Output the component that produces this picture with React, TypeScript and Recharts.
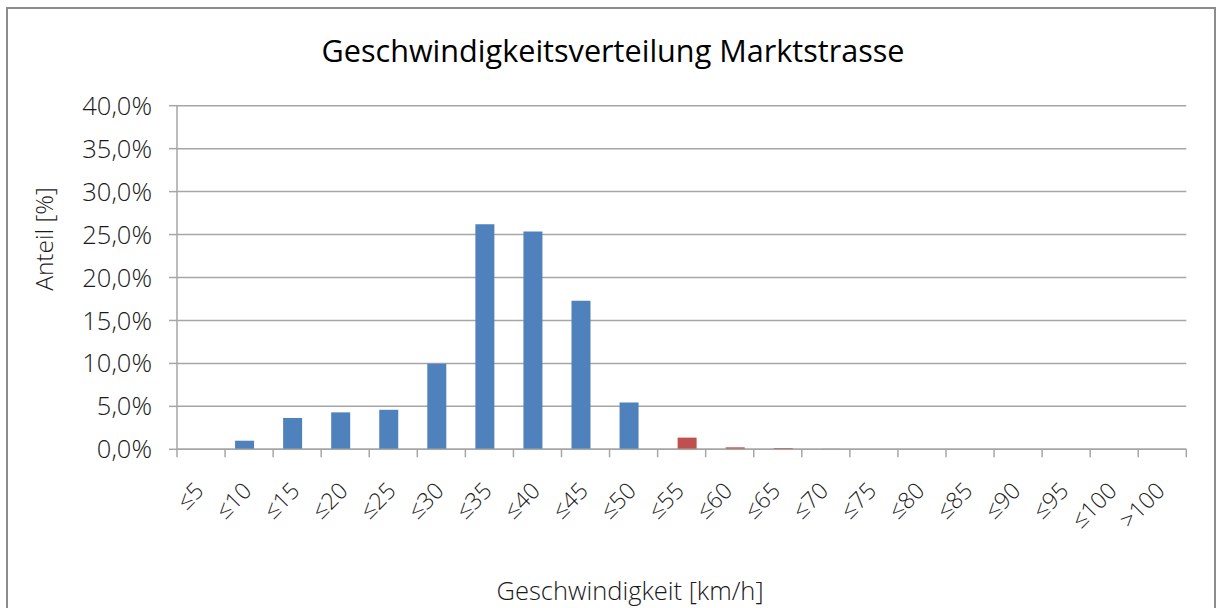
import React from 'react';
import { BarChart, Bar, XAxis, YAxis, CartesianGrid } from 'recharts';

// Geschwindigkeitsklassen
const klassen = ['≤5', '≤10', '≤15', '≤20', '≤25', '≤30', '≤35', '≤40', '≤45', '≤50', '≤55', '≤60', '≤65', '≤70', '≤75', '≤80', '≤85', '≤90', '≤95', '≤100', '>100'];
// Anteil [%] innerhalb der Toleranz (blau)
const anteilErlaubt = [0, 1.0, 3.65, 4.3, 4.6, 9.95, 26.2, 25.35, 17.3, 5.45, 0, 0, 0, 0, 0, 0, 0, 0, 0, 0, 0];
// Anteil [%] Ueberschreitungen (rot)
const anteilUeber = [0, 0, 0, 0, 0, 0, 0, 0, 0, 0, 1.36, 0.23, 0.15, 0.05, 0.03, 0, 0, 0, 0, 0, 0];
const yTicks = [0, 5, 10, 15, 20, 25, 30, 35, 40];

const data = klassen.map((k, i) => ({ klasse: k, erlaubt: anteilErlaubt[i], ueber: anteilUeber[i] }));

const CHART_W = 1206;
const CHART_H = 600;
const Y_W = 169;
const MARGIN = { top: 96.7, right: 27.7, left: 0, bottom: 59.7 };
const BAND = (CHART_W - Y_W - MARGIN.left - MARGIN.right) / klassen.length;
const GRID = '#a6a6a6';
const FONT = '"Open Sans", sans-serif';

const fmt = (v: number) => v.toFixed(1).replace('.', ',') + '%';

const XTick = (props: any) => {
  const { x, y, payload, index } = props;
  const half = typeof payload?.offset === 'number' && payload.offset > 0 ? payload.offset : BAND / 2;
  const ax = x + 4;
  const ay = y + 43;
  return (
    <g>
      <line x1={x - half} y1={y} x2={x - half} y2={y + 8} stroke={GRID} strokeWidth={1.5} />
      {index === klassen.length - 1 && (
        <line x1={x + half} y1={y} x2={x + half} y2={y + 8} stroke={GRID} strokeWidth={1.5} />
      )}
      <text x={ax} y={ay} textAnchor="end" transform={`rotate(-45, ${ax}, ${ay})`}
        fontFamily={FONT} fontWeight={300} fontSize={23} fill="#1a1a1a">
        {payload.value}
      </text>
    </g>
  );
};

export default function App() {
  return (
    <div style={{ position: 'absolute', left: 6, top: 7, width: 1210, height: 620, border: '2px solid #8c8c8c', boxSizing: 'border-box', background: '#fff', fontFamily: FONT }}>
      <div style={{ position: 'absolute', left: 0, top: 24, width: CHART_W + 4, textAlign: 'center', fontSize: 30.6, lineHeight: '34px', color: '#000' }}>
        Geschwindigkeitsverteilung Marktstrasse
      </div>
      <BarChart width={CHART_W} height={CHART_H} data={data} margin={MARGIN} barSize={19} barGap={-9}>
        <CartesianGrid vertical={false} stroke={GRID} strokeWidth={1.5} />
        <XAxis dataKey="klasse" interval={0} height={100} tickLine={false} tickSize={0} tickMargin={0}
          axisLine={{ stroke: GRID, strokeWidth: 1.5 }} tick={<XTick />} />
        <YAxis width={Y_W} domain={[0, 40]} ticks={yTicks} tickFormatter={fmt} interval={0}
          axisLine={{ stroke: GRID, strokeWidth: 1.5 }} tickLine={{ stroke: GRID, strokeWidth: 1.5 }}
          tickSize={8} tickMargin={17}
          tick={{ fontFamily: FONT, fontWeight: 300, fontSize: 25.5, fill: '#1a1a1a' }} />
        <Bar dataKey="erlaubt" fill="#4f81bd" isAnimationActive={false} />
        <Bar dataKey="ueber" fill="#c0504d" isAnimationActive={false} />
      </BarChart>
      <div style={{ position: 'absolute', left: 35, top: 229.5, transform: 'translate(-50%, -50%) rotate(-90deg)', whiteSpace: 'nowrap', fontSize: 24.5, fontWeight: 300, color: '#1a1a1a' }}>
        Anteil [%]
      </div>
      <div style={{ position: 'absolute', left: 622, top: 581, transform: 'translate(-50%, -50%)', whiteSpace: 'nowrap', fontSize: 25.5, fontWeight: 300, color: '#1a1a1a' }}>
        Geschwindigkeit [km/h]
      </div>
    </div>
  );
}
